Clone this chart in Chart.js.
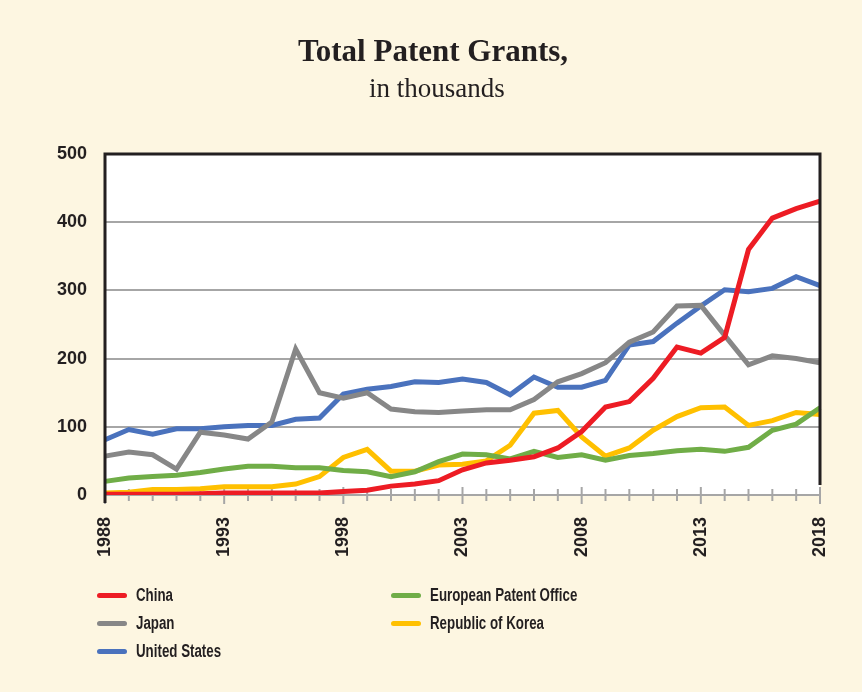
<!DOCTYPE html>
<html>
<head>
<meta charset="utf-8">
<title>Total Patent Grants</title>
<script src="https://cdn.jsdelivr.net/npm/chart.js@4.4.1/dist/chart.umd.min.js"></script>
<style>
    html, body { margin: 0; padding: 0; background: #fdf6e1; }
    #wrap { position: relative; width: 862px; height: 692px; background: #fdf6e1; overflow: hidden; }
    #patentChart { position: absolute; left: 0; top: 0; }
    .title { position: absolute; left: 0; width: 866px; text-align: center; color: #231f20; font-family: "Liberation Serif", "Times New Roman", serif; white-space: nowrap; }
    #mainTitle { top: 35px; font-size: 31px; line-height: 31px; font-weight: bold; }
    #subTitle { top: 75px; font-size: 27px; line-height: 27px; width: 874px; }
    #legend { position: absolute; left: 97px; top: 581px; display: grid; grid-template-columns: 294px auto; grid-template-rows: repeat(3, 28px); grid-auto-flow: column; }
    .item { display: flex; align-items: center; font-family: "Liberation Sans", Arial, sans-serif; font-weight: bold; font-size: 18px; color: #231f20; white-space: nowrap; }
    .item .text { display: inline-block; transform: scaleX(0.74); transform-origin: left center; }
    .swatch { width: 30px; height: 5px; border-radius: 3px; margin-right: 9px; }
</style>
</head>
<body>
<div id="wrap">
    <canvas id="patentChart" width="862" height="692"></canvas>
    <div class="title" id="mainTitle">Total Patent Grants,</div>
    <div class="title" id="subTitle">in thousands</div>
    <div id="legend"></div>
</div>
<script>
// values in thousands
const years = ['1988', '1989', '1990', '1991', '1992', '1993', '1994', '1995', '1996', '1997',
    '1998', '1999', '2000', '2001', '2002', '2003', '2004', '2005', '2006', '2007',
    '2008', '2009', '2010', '2011', '2012', '2013', '2014', '2015', '2016', '2017', '2018'];

const china = [1, 1, 1, 1, 2, 3, 3, 3, 3, 3, 5, 7, 13, 16, 21, 37, 47, 51, 56, 69,
    93, 129, 137, 171, 217, 208, 231, 360, 406, 420, 431];
const epo = [20, 25, 27, 29, 33, 38, 42, 42, 40, 40, 36, 34, 27, 34, 49, 60, 59, 53, 64, 55,
    59, 51, 58, 61, 65, 67, 64, 70, 95, 104, 128];
const japan = [57, 63, 59, 38, 92, 88, 82, 107, 214, 150, 142, 150, 126, 122, 121, 123, 125, 125, 140, 166,
    178, 194, 224, 239, 277, 278, 234, 191, 204, 200, 194];
const korea = [3, 4, 8, 8, 9, 12, 12, 12, 16, 27, 55, 67, 35, 35, 44, 45, 50, 73, 120, 124,
    85, 57, 69, 95, 115, 128, 129, 102, 109, 121, 118];
const us = [81, 96, 89, 97, 97, 100, 102, 102, 111, 113, 148, 155, 159, 166, 165, 170, 165, 147, 173, 158,
    158, 168, 220, 225, 252, 277, 301, 298, 303, 320, 307];

const yTicks = [0, 100, 200, 300, 400, 500];

const series = [
    { name: 'China', data: china, color: '#ed1c24' },
    { name: 'Japan', data: japan, color: '#878787' },
    { name: 'United States', data: us, color: '#4a72bd' },
    { name: 'European Patent Office', data: epo, color: '#70ad47' },
    { name: 'Republic of Korea', data: korea, color: '#ffc000' }
];

const ink = '#231f20';
const axisGray = '#a6a6a6';

// tick marks crossing the x axis, plus the dark frame round the plot
const plotFrame = {
    id: 'plotFrame',
    beforeDatasetsDraw(chart) {
        const { ctx, chartArea: a, scales: { x } } = chart;
        ctx.save();
        ctx.strokeStyle = axisGray;
        ctx.lineWidth = 2;
        ctx.beginPath();
        ctx.moveTo(a.left, a.bottom);
        ctx.lineTo(a.right, a.bottom);
        ctx.stroke();
        years.forEach((yr, i) => {
            const px = x.getPixelForTick(i);
            const major = i % 5 === 0;
            ctx.beginPath();
            ctx.moveTo(px, a.bottom - (major ? 8 : 6));
            ctx.lineTo(px, a.bottom + (major ? 9 : 6));
            ctx.stroke();
        });
        ctx.restore();
    },
    afterDatasetsDraw(chart) {
        const { ctx, chartArea: a } = chart;
        ctx.save();
        ctx.strokeStyle = ink;
        ctx.lineWidth = 3;
        ctx.beginPath();
        ctx.moveTo(a.left, a.bottom + 8);
        ctx.lineTo(a.left, a.top);
        ctx.lineTo(a.right, a.top);
        ctx.lineTo(a.right, a.bottom - 10);
        ctx.stroke();
        ctx.restore();
    }
};

const chartBackground = {
    id: 'chartBackground',
    beforeDraw(chart) {
        const { ctx, chartArea: a } = chart;
        ctx.save();
        ctx.fillStyle = '#ffffff';
        ctx.fillRect(a.left, a.top, a.right - a.left, a.bottom - a.top);
        ctx.restore();
    }
};

new Chart(document.getElementById('patentChart'), {
    type: 'line',
    data: {
        labels: years,
        datasets: series.map(s => ({
            label: s.name,
            data: s.data,
            borderColor: s.color,
            backgroundColor: s.color,
            borderWidth: 5,
            pointRadius: 0,
            tension: 0,
            borderJoinStyle: 'miter',
            fill: false
        }))
    },
    options: {
        responsive: false,
        animation: false,
        layout: { padding: { top: 154, right: 42, bottom: 0, left: 0 } },
        plugins: {
            legend: { display: false },
            title: { display: false },
            tooltip: { enabled: false }
        },
        scales: {
            x: {
                grid: { display: false },
                border: { display: false },
                afterFit: scale => { scale.height = 197; },
                ticks: {
                    autoSkip: false,
                    minRotation: 90,
                    maxRotation: 90,
                    padding: 14,
                    color: ink,
                    font: { family: '"Liberation Sans", Arial, sans-serif', size: 18, weight: 'bold' },
                    callback: function(value, index) {
                        return index % 5 === 0 ? years[index] : '';
                    }
                }
            },
            y: {
                min: 0,
                max: 500,
                afterFit: scale => { scale.width = 105; },
                afterBuildTicks: scale => { scale.ticks = yTicks.map(v => ({ value: v })); },
                border: { display: false },
                grid: {
                    drawTicks: false,
                    lineWidth: 2,
                    color: ctx => (ctx.tick.value === 0 || ctx.tick.value === 500) ? 'rgba(0,0,0,0)' : axisGray
                },
                ticks: {
                    padding: 18,
                    color: ink,
                    font: { family: '"Liberation Sans", Arial, sans-serif', size: 18, weight: 'bold' }
                }
            }
        }
    },
    plugins: [chartBackground, plotFrame]
});

// legend, two columns as in the original
const legend = document.getElementById('legend');
series.forEach(s => {
    const item = document.createElement('div');
    item.className = 'item';
    const sw = document.createElement('span');
    sw.className = 'swatch';
    sw.style.background = s.color;
    const txt = document.createElement('span');
    txt.className = 'text';
    txt.textContent = s.name;
    item.appendChild(sw);
    item.appendChild(txt);
    legend.appendChild(item);
});
</script>
</body>
</html>
